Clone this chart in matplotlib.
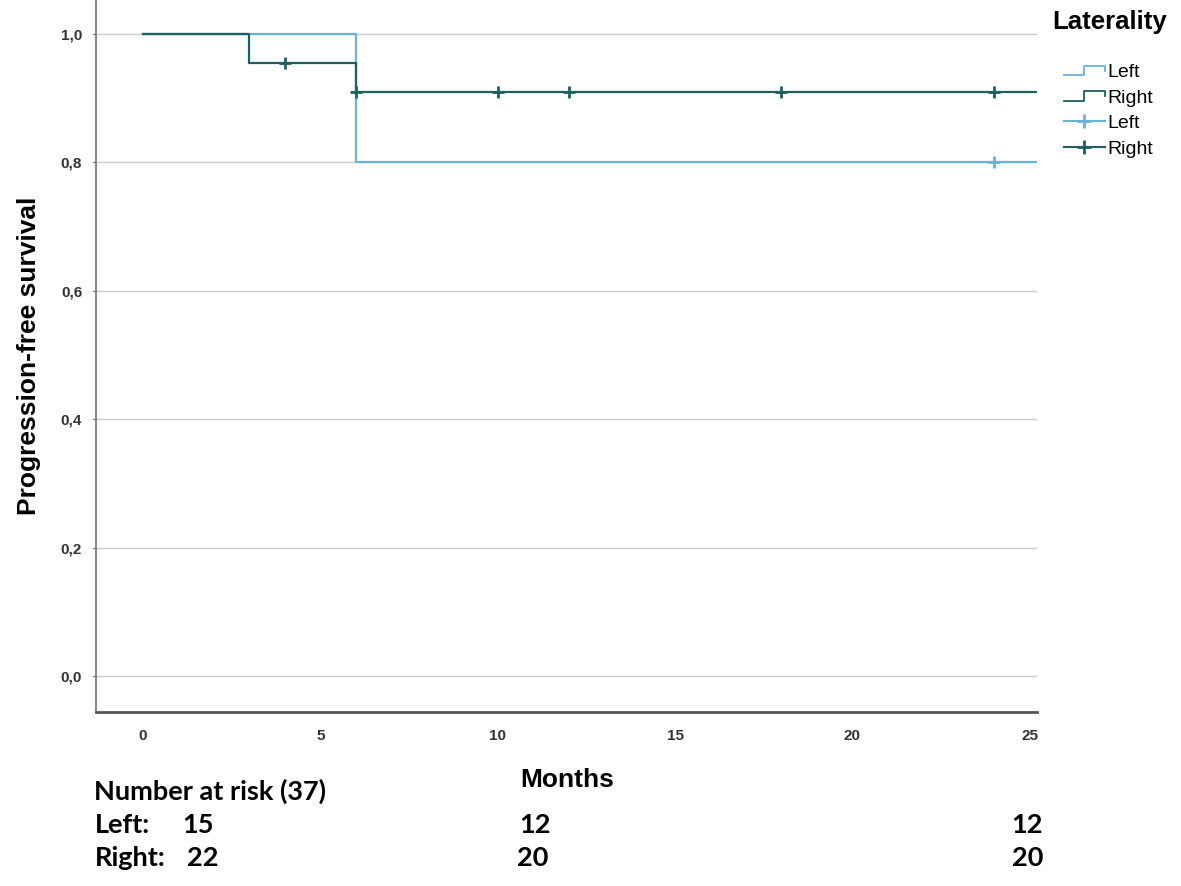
import matplotlib
matplotlib.use('Agg')
from matplotlib import pyplot as plt
from matplotlib.lines import Line2D
from matplotlib.legend_handler import HandlerBase
import numpy as np

# Kaplan-Meier steps (time, survival)
left_t = [0, 6, 25.2]
left_s = [1.0, 0.8, 0.8]
right_t = [0, 3, 6, 25.2]
right_s = [1.0, 0.9545, 0.909, 0.909]

# censored observations
left_cens_t = [24]
left_cens_s = [0.8]
right_cens_t = [4, 6, 10, 12, 18, 24]
right_cens_s = [0.9545, 0.909, 0.909, 0.909, 0.909, 0.909]

xticks = [0, 5, 10, 15, 20, 25]
yticks = [0.0, 0.2, 0.4, 0.6, 0.8, 1.0]
ytick_labels = ['0,0', '0,2', '0,4', '0,6', '0,8', '1,0']

risk_groups = ['Left:', 'Right:']
risk_left = [15, 12, 12]
risk_right = [22, 20, 20]

c_left = '#6ab3d3'
c_right = '#1f5f5f'
lab_font = 'Liberation Sans'


class StepHandler(HandlerBase):
    def create_artists(self, legend, orig, xd, yd, w, h, fontsize, trans):
        xs = [xd, xd + w * 0.5, xd + w * 0.5, xd + w, xd + w]
        ys = [yd + h * 0.15, yd + h * 0.15, yd + h * 0.85, yd + h * 0.85, yd + h * 0.5]
        ln = Line2D(xs, ys, color=orig.get_color(), lw=1.3, transform=trans)
        return [ln]


fig = plt.figure(figsize=(11.81, 8.86), dpi=100)
ax = fig.add_axes([0.0813, 0.1964, 0.7967, 0.8036])

ax.step(left_t, left_s, where='post', color=c_left, lw=1.6)
ax.step(right_t, right_s, where='post', color=c_right, lw=1.6)
ax.plot(left_cens_t, left_cens_s, '+', color=c_left, ms=8, mew=2)
ax.plot(right_cens_t, right_cens_s, '+', color=c_right, ms=8, mew=2)

ax.set_xlim(-1.32, 25.2)
ax.set_ylim(-0.056, 1.053)
ax.set_xticks(xticks)
ax.set_yticks(yticks)
ax.set_yticklabels(ytick_labels)
ax.tick_params(labelsize=11, colors='#333333', length=2, pad=8)
ax.tick_params(axis='x', length=0, pad=12)
for t in ax.get_xticklabels() + ax.get_yticklabels():
    t.set_family(lab_font)
    t.set_fontweight('bold')
ax.grid(axis='y', color='#cccccc', lw=1)
ax.set_axisbelow(True)
for s in ['top', 'right']:
    ax.spines[s].set_visible(False)
ax.spines['left'].set_color('#888888')
ax.spines['left'].set_linewidth(1.5)
ax.spines['bottom'].set_color('#555555')
ax.spines['bottom'].set_linewidth(2)

ax.set_ylabel('Progression-free survival', fontsize=19, fontweight='bold',
              family=lab_font, labelpad=14)
fig.text(0.48, 0.12, 'Months', fontsize=19, fontweight='bold', family=lab_font,
         ha='center', va='center')

fig.text(0.891, 0.975, 'Laterality', fontsize=18.5, fontweight='bold',
         family=lab_font, va='center')
h1 = Line2D([], [], color=c_left)
h2 = Line2D([], [], color=c_right)
h3 = Line2D([], [], color=c_left, marker='+', ms=10, mew=2)
h4 = Line2D([], [], color=c_right, marker='+', ms=10, mew=2)
leg = fig.legend([h1, h2, h3, h4], ['Left', 'Right', 'Left', 'Right'],
                 handler_map={h1: StepHandler(), h2: StepHandler()},
                 loc='upper left', bbox_to_anchor=(0.901, 0.928), frameon=False,
                 prop={'family': lab_font, 'size': 14}, handlelength=2.1,
                 handletextpad=0.15, labelspacing=0.4, borderaxespad=0,
                 borderpad=0)

ff = 'Lato'
fig.text(0.080, 0.107, 'Number at risk (37)', fontsize=19.5, family=ff,
         fontweight='bold', va='center')
col_x = [[0.168, 0.453, 0.870], [0.172, 0.451, 0.870]]
rows = [risk_left, risk_right]
for i, (g, vals) in enumerate(zip(risk_groups, rows)):
    y = 0.069 - i * 0.037
    fig.text(0.080, y, g, fontsize=19.5, family=ff, fontweight='bold', va='center')
    for x, v in zip(col_x[i], vals):
        fig.text(x, y, str(v), fontsize=19.5, family=ff, fontweight='bold',
                 va='center', ha='center')

plt.savefig('out.png')
